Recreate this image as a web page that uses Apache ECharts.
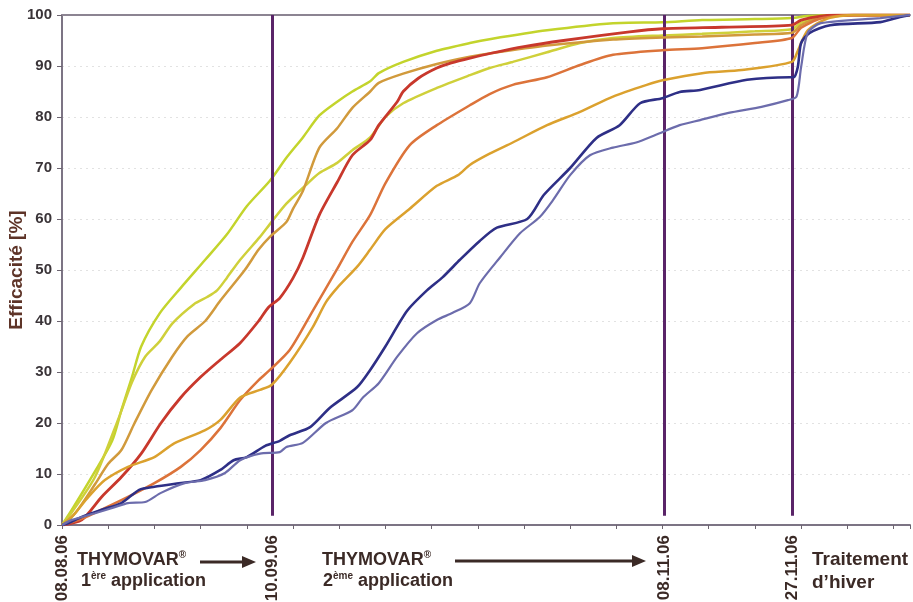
<!DOCTYPE html>
<html><head><meta charset="utf-8">
<script src="https://cdn.jsdelivr.net/npm/echarts@6/dist/echarts.min.js"></script>
<style>html,body{margin:0;padding:0;background:#fff}#c{width:913px;height:602px}</style>
</head><body><div id="c"></div>
<script>
// axis positions of the dated events (x axis is a sampling index, ticks every 7)
const markerPos = [0, 31.8, 91.2, 110.6];
const markerLabels = ['08.08.06', '10.09.06', '08.11.06', '27.11.06'];
const lineMarkers = [31.8, 91.2, 110.6];

const seriesColors = ['#c3d42c', '#cfd03a', '#d19a3c', '#c8382c', '#dc733a', '#dba12e', '#2e2f86', '#6c6cac'];

const yg1 = [[0,0],[1.5,3],[5,10.5],[7.6,16.5],[9,22.5],[10.6,29],[12,35],[14.8,41.5],[18,46.5],[21.7,52],[25,57],[28,62.5],[31.5,67.5],[34,72],[36.5,76],[39,80.3],[41.7,83],[44,85],[46.7,87],[48,88.6],[51.7,90.8],[56.8,93],[61.8,94.5],[65,95.3],[73.5,97],[83.5,98.4],[91,98.6],[97,99],[105,99.2],[110.6,99.4],[113,99.8],[118,100],[128.5,100]];
const yg2 = [[0,0],[1.5,2.5],[5,9.4],[8.6,21],[10.6,28],[12.6,33],[14.8,36],[16.7,39.5],[20,43.3],[22,44.7],[23.5,46],[25,48.5],[27,52],[30,56.5],[31.5,59],[34,63],[37,66.7],[39,69],[41.7,71],[44,73.5],[46.7,76],[49,80],[51.7,82.7],[56.8,85.7],[61.8,88.2],[64.8,89.6],[68.3,90.8],[73.5,92.7],[78.5,94.5],[83.5,95.5],[91,96],[97,96.3],[105,96.8],[110.6,97.2],[112,98.5],[115,99.5],[120,100],[128.5,100]];
const tan = [[0,0],[2,2.3],[5,8],[7,12],[9,14.7],[11,20],[13.6,26.5],[16.7,33],[19,37],[21.7,40],[24,44],[27.7,50],[29.8,54],[31.5,56.5],[34,59.4],[35,62],[36.5,65.5],[39,74],[41.7,77.8],[44,81.8],[46.7,85],[48,86.7],[51.7,88.5],[56.8,90.4],[61.8,91.8],[65,92.5],[73.5,94],[83.5,95.2],[91,95.6],[97,95.8],[105,96.2],[110.6,96.5],[112,98],[115,99.5],[120,100],[128.5,100]];
const red = [[0,0],[3,1],[6,5.5],[9,9.4],[12,14],[15,20],[18,25],[21,29],[24,32.4],[27,35.7],[29.8,40],[31.3,42.7],[33,44.5],[35,48.4],[36.5,52.4],[39,60.8],[41.7,67.2],[44,72.5],[46.7,75.5],[48,78.4],[50.8,83],[51.7,85],[54,87.6],[56.8,89.6],[59,90.6],[62,91.6],[65,92.5],[70,93.8],[76,95],[86,96.7],[91,97.3],[100,97.6],[110.6,98],[112,99],[115,99.8],[120,100],[128.5,100]];
const orange = [[0,0],[3,1.2],[6,3],[10,5.5],[14,8.2],[18,11.4],[21,14.7],[24,19],[27,24.5],[29.8,28.4],[31.5,30.4],[34.5,34.3],[38,42],[41.7,50.2],[44,55.5],[46.7,60.8],[49,67],[52.7,74.5],[56.8,78.4],[61.8,82.3],[64.8,84.5],[68.3,86.3],[73.5,87.8],[78.5,90.2],[83.5,92.2],[91,93.1],[97,93.5],[105,94.5],[110.6,95.5],[112,97.5],[115,99.3],[120,100],[128.5,100]];
const gold = [[0,0],[1.5,1.6],[4,5.5],[6.5,8.8],[10,11.4],[14,13.3],[17,16],[21.7,18.6],[24,20.6],[27,25],[30,26.5],[31.8,27.5],[34.5,31.8],[38,38.8],[40,43.7],[41.7,46.5],[44.7,50.6],[46.7,54],[49,58],[52.7,62],[56.8,66.5],[60,68.6],[61.8,70.6],[64.8,72.8],[68.3,75],[73.5,78.4],[78.5,81],[83.5,84],[88.6,86.3],[91,87.2],[97,88.6],[103,89.2],[110.6,90.8],[111.5,93],[113,97],[116,99.3],[120,100],[128.5,100]];
const darkBlue = [[0,0],[1,0.4],[3,1.6],[6,3],[9,4.3],[11.7,6.9],[14,7.5],[17.7,8.2],[21,8.8],[24,10.8],[26,12.7],[28,13.3],[30.8,15.5],[33,16.5],[34.5,17.6],[37.6,19.2],[40.6,23],[44.7,27],[46.7,30.4],[49,35],[52.3,42],[55.3,46],[57.7,48.6],[60.3,52],[63.3,55.7],[65.9,58.3],[70.5,60],[73,64.7],[77,70],[81,75.9],[84.5,78.4],[87.6,82.7],[91,83.7],[93.6,84.9],[96.7,85.3],[103.8,87.3],[110.3,87.8],[110.9,87.8],[111.5,89.8],[112,94.5],[113.3,96.5],[116.4,98],[124,98.6],[127,99.6],[128.5,100]];
const lightBlue = [[0,0],[1.5,1],[5,2.3],[8,3.5],[10,4.3],[12.6,4.5],[15,6.3],[18.6,8.2],[21.7,8.8],[24.7,10.2],[27,12.7],[30,14],[33,14.3],[34,15.3],[36.5,16.1],[40,20],[44,22.5],[45.6,25],[48,27.8],[50.8,33],[53.8,37.6],[56.8,40.2],[59.2,41.6],[61.8,43.5],[63.3,47.4],[66.4,52.5],[69.4,57.2],[72.4,60.4],[74.4,63.7],[77,68.6],[80,72.5],[83.5,74],[87,75],[90,76.5],[93.6,78.4],[96.7,79.4],[101,80.8],[106,82],[110,83.3],[111.3,84],[112,89.8],[113,96.5],[115,98.4],[124,99.4],[128.5,100]];

const seriesData = [yg1, yg2, tan, red, orange, gold, darkBlue, lightBlue];
const seriesWidths = [2.5, 2.5, 2.5, 2.8, 2.5, 2.5, 2.6, 2.2];

const FONT = '"Liberation Sans", Arial, sans-serif';
const TXT = '#3b2a26';

const chart = echarts.init(document.getElementById('c'), null, {renderer: 'canvas'});

const series = seriesData.map((d, i) => ({
  type: 'line', data: d, showSymbol: false, smooth: 0.25,
  lineStyle: {color: seriesColors[i], width: seriesWidths[i]},
  z: 3 + i, silent: true
}));
series.push({
  type: 'line', data: [], silent: true,
  markLine: {
    silent: true, symbol: ['none', 'none'], animation: false,
    label: {show: false},
    lineStyle: {color: '#5a2468', width: 3, type: 'solid'},
    data: lineMarkers.map(p => [{coord: [p, 1.8]}, {coord: [p, 100]}])
  },
  z: 20
});

const bigRich = {
  b: {fontSize: 18, fontWeight: 'bold', fontFamily: FONT, fill: TXT, lineHeight: 20},
  s: {fontSize: 10, fontWeight: 'bold', fontFamily: FONT, fill: TXT, lineHeight: 20, verticalAlign: 'top'}
};

chart.setOption({
  animation: false,
  backgroundColor: '#ffffff',
  grid: {left: 62, right: 3, top: 15, bottom: 77, containLabel: false, outerBoundsMode: 'none'},
  xAxis: [{
    type: 'value', min: 0, max: 128.5, interval: 7,
    axisLine: {show: true, onZero: false, lineStyle: {color: '#7c7484', width: 2}},
    axisTick: {show: true, inside: false, length: 4, lineStyle: {color: '#6c6470', width: 1}},
    splitLine: {show: false},
    axisLabel: {
      customValues: markerPos, rotate: 90, margin: 10,
      color: TXT, fontWeight: 'bold', fontSize: 17, fontFamily: FONT,
      formatter: v => { const k = markerPos.indexOf(v); return k >= 0 ? markerLabels[k] : ''; }
    }
  }, {
    type: 'value', min: 0, max: 128.5, position: 'top',
    axisLine: {show: true, onZero: false, lineStyle: {color: '#8c8492', width: 2}},
    axisTick: {show: false}, axisLabel: {show: false}, splitLine: {show: false}
  }],
  yAxis: {
    type: 'value', min: 0, max: 100, interval: 10,
    name: 'Efficacité [%]', nameLocation: 'middle', nameGap: 36, nameRotate: 90,
    nameMoveOverlap: false,
    nameTextStyle: {color: '#5e3428', fontWeight: 'bold', fontSize: 19, fontFamily: FONT},
    axisLine: {show: true, lineStyle: {color: '#7c7484', width: 2}},
    axisTick: {show: true, inside: false, length: 5, lineStyle: {color: '#6c6470', width: 1}},
    axisLabel: {color: '#3a3438', fontWeight: 'bold', fontSize: 15, fontFamily: FONT, margin: 10},
    splitLine: {show: true, lineStyle: {color: '#e2e2e2', width: 1, type: [2, 4]}}
  },
  series: series,
  graphic: [
    {type: 'text', left: 77, top: 550, style: {text: '{b|THYMOVAR}{s|®}', rich: bigRich}},
    {type: 'text', left: 81, top: 571, style: {text: '{b|1}{s|ère}{b| application}', rich: bigRich}},
    {type: 'line', shape: {x1: 200, y1: 562, x2: 244, y2: 562}, style: {stroke: TXT, lineWidth: 3}},
    {type: 'polygon', shape: {points: [[242, 556], [256, 562], [242, 568]]}, style: {fill: TXT}},
    {type: 'text', left: 322, top: 550, style: {text: '{b|THYMOVAR}{s|®}', rich: bigRich}},
    {type: 'text', left: 323, top: 571, style: {text: '{b|2}{s|ème}{b| application}', rich: bigRich}},
    {type: 'line', shape: {x1: 455, y1: 561, x2: 634, y2: 561}, style: {stroke: TXT, lineWidth: 3}},
    {type: 'polygon', shape: {points: [[632, 555], [646, 561], [632, 567]]}, style: {fill: TXT}},
    {type: 'text', left: 812, top: 548, style: {
      text: 'Traitement\nd\u2019hiver', fill: TXT, font: 'bold 19px ' + FONT, lineHeight: 23
    }}
  ]
});
</script>
</body></html>
